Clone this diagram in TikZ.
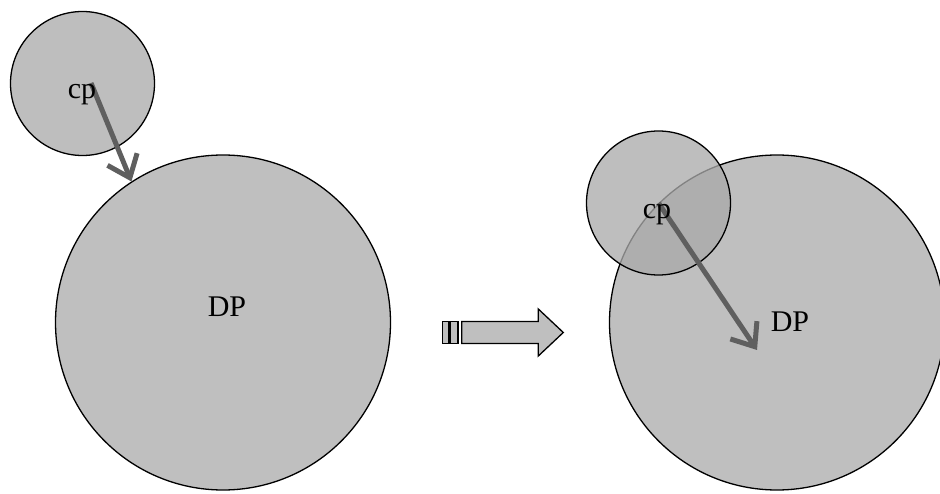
\documentclass[tikz,border=0pt]{standalone}
\usepackage{fontspec}
\setmainfont{Liberation Serif}
\usetikzlibrary{arrows.meta}
\definecolor{dpfill}{RGB}{191,191,191}
\definecolor{cpfill}{RGB}{170,170,170}
\definecolor{vec}{RGB}{95,95,95}
\tikzset{
  line/.style={line width=1.3pt},
  % particles
  dp/.style={draw,line,fill=dpfill,circle,inner sep=0pt,minimum size=335pt},
  cp/.style={draw,line,fill=cpfill,fill opacity=.77,circle,inner sep=0pt,minimum size=144pt},
  % velocity vector
  vel/.style={draw=vec,line width=5pt,-{Straight Barb[length=20pt,width=32pt]}},
  % labels (set on the baseline)
  lbl/.style={font=\fontsize{30}{36}\selectfont,anchor=base,inner sep=0pt}
}

\begin{document}
\begin{tikzpicture}[x=1pt,y=-1pt]
  \useasboundingbox (0,0) rectangle (940,494);
  \clip (0,0) rectangle (940,494);

  %--- before: cp approaching DP
  \node[dp] (DPL) at (223,322.5) {};
  \node[cp] (cpL) at (82.5,83.5) {};
  \coordinate (tailL) at (91,83);
  \coordinate (headL) at (DPL.123);
  \draw[vel] (tailL) -- (headL);
  \node[lbl] (cpLtxt) at (82,99) {cp};
  \node[lbl] (DPLtxt) at (227,317) {DP};

  %--- striped block arrow
  \draw[line,fill=dpfill] (442.7,321.5) rectangle (448.3,343.5);
  \draw[line,fill=dpfill] (450,321.5) rectangle (458,343.5);
  \draw[line,fill=dpfill] (461.7,321.5) -- (538.3,321.5) -- (538.3,309)
    -- (563.3,332.5) -- (538.3,356) -- (538.3,343.5) -- (461.7,343.5) -- cycle;

  %--- after: cp overlapping DP
  \node[dp] (DPR) at (777,322.5) {};
  \node[cp] (cpR) at (658.5,203) {};
  \coordinate (headR) at (757,350);
  \draw[vel] (cpR.center) -- (headR);
  \node[lbl] (cpRtxt) at (657,219) {cp};
  \node[lbl] (DPRtxt) at (790,332) {DP};
\end{tikzpicture}
\end{document}
